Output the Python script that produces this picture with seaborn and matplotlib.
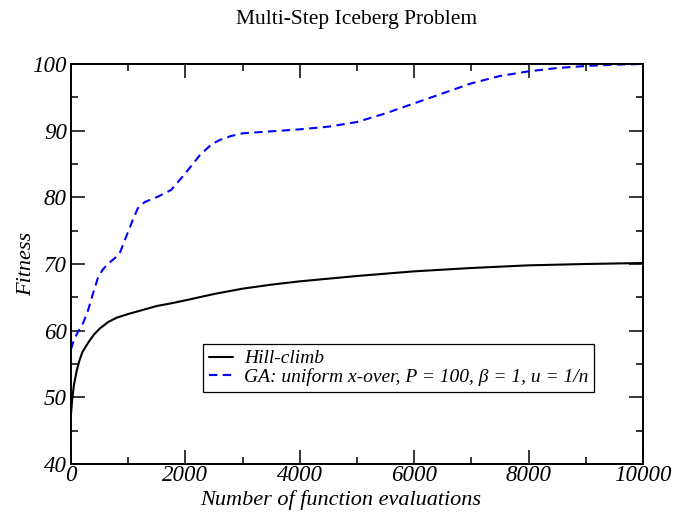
import matplotlib
matplotlib.use("Agg")
import matplotlib.pyplot as plt
import seaborn as sns
import pandas as pd
from matplotlib.ticker import MultipleLocator
from matplotlib.lines import Line2D

# ---- data ----
hc_x = [0, 20, 50, 100, 150, 200, 300, 400, 500, 650, 800, 1000, 1250,
        1500, 1750, 2000, 2500, 3000, 3500, 4000, 5000, 6000, 7000, 8000,
        9000, 10000]
hc_y = [47.5, 49.6, 51.8, 54.0, 55.6, 56.8, 58.2, 59.4, 60.3, 61.3, 61.95,
        62.5, 63.1, 63.7, 64.1, 64.55, 65.5, 66.3, 66.9, 67.4, 68.2, 68.9,
        69.4, 69.8, 70.0, 70.15]

ga_x = [0, 50, 120, 210, 300, 385, 470, 550, 600, 700, 770, 860, 960, 1080,
        1170, 1290, 1520, 1750, 1850, 2000, 2250, 2450, 2600, 2800, 3000,
        3500, 4000, 4500, 5000, 5500, 6000, 6500, 7000, 7500, 8000, 8500,
        9000, 9500, 10000]
ga_y = [57.2, 58.6, 59.8, 61.1, 63.1, 65.6, 67.9, 69.1, 69.6, 70.4, 70.9,
        71.8, 74.0, 76.6, 78.4, 79.3, 80.1, 81.1, 82.1, 83.6, 86.3, 87.9,
        88.6, 89.2, 89.6, 89.9, 90.2, 90.6, 91.3, 92.6, 94.1, 95.6, 97.1,
        98.2, 98.9, 99.4, 99.7, 99.9, 100.0]

series_names = ["Hill-climb", "GA: uniform x-over, P = 100, β = 1, u = 1/n"]
title = "Multi-Step Iceberg Problem"
x_label = "Number of function evaluations"
y_label = "Fitness"

df = pd.concat([
    pd.DataFrame({"x": hc_x, "y": hc_y, "series": series_names[0]}),
    pd.DataFrame({"x": ga_x, "y": ga_y, "series": series_names[1]}),
], ignore_index=True)

sns.set_theme(style="ticks")
plt.rcParams["font.family"] = ["Liberation Serif", "DejaVu Serif"]
plt.rcParams["mathtext.fontset"] = "stix"
for k in ["text.color", "axes.labelcolor", "xtick.color", "ytick.color",
          "axes.edgecolor"]:
    plt.rcParams[k] = "black"

fig = plt.figure(figsize=(6.76, 5.12), dpi=100)
ax = fig.add_axes([71/676, 1 - 464/512, (643 - 71)/676, (464 - 64)/512])

sns.lineplot(data=df, x="x", y="y", hue="series", style="series",
             palette={series_names[0]: "black", series_names[1]: "#0000ff"},
             dashes={series_names[0]: "", series_names[1]: (4, 2.6)},
             linewidth=1.5, ax=ax, legend=False, sort=False)

ax.set_xlim(0, 10000)
ax.set_ylim(40, 100)
ax.xaxis.set_major_locator(MultipleLocator(2000))
ax.xaxis.set_minor_locator(MultipleLocator(1000))
ax.yaxis.set_major_locator(MultipleLocator(10))
ax.yaxis.set_minor_locator(MultipleLocator(5))

for s in ax.spines.values():
    s.set_visible(True)
    s.set_linewidth(1.4)
    s.set_color("black")

ax.tick_params(which="both", direction="in", top=True, right=True,
               colors="black", width=1.1)
ax.tick_params(which="major", length=10, labelsize=16.5)
ax.tick_params(axis="x", which="major", pad=1)
ax.tick_params(axis="y", which="major", pad=3)
ax.tick_params(which="minor", length=5)
for lab in ax.get_xticklabels() + ax.get_yticklabels():
    lab.set_fontstyle("italic")

ax.set_xlabel(x_label, fontsize=16, fontstyle="italic")
ax.xaxis.set_label_coords(0.472, -0.066)
ax.set_ylabel(y_label, fontsize=16, fontstyle="italic", labelpad=-3)
ax.set_title(title, fontsize=15.5, pad=29)

handles = [Line2D([], [], color="black", lw=1.5),
           Line2D([], [], color="#0000ff", lw=1.5, dashes=(4, 2.6))]
leg = ax.legend(handles, series_names, loc="upper left",
                bbox_to_anchor=(203/676, 1 - 344/512),
                bbox_transform=fig.transFigure, borderaxespad=0,
                frameon=True, fancybox=False, shadow=False,
                handlelength=1.25, handletextpad=0.55, borderpad=0.3,
                labelspacing=0.05,
                prop={"family": ["Liberation Serif", "DejaVu Serif"],
                      "style": "italic", "size": 14})
leg.get_frame().set_edgecolor("black")
leg.get_frame().set_linewidth(0.9)
leg.get_frame().set_alpha(1)

fig.savefig("out.png", dpi=100)
